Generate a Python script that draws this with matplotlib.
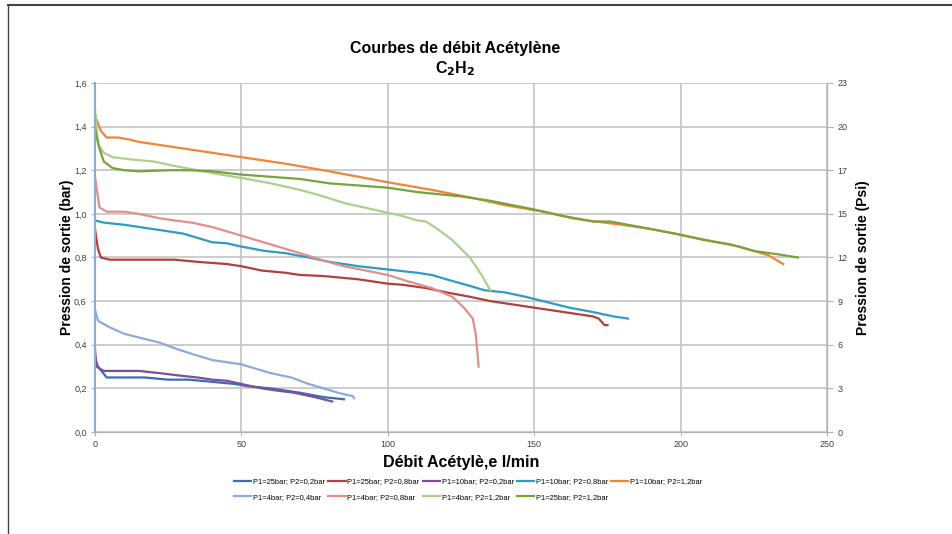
import numpy as np
import matplotlib.pyplot as plt
from matplotlib.lines import Line2D

# debit (l/min) et pression de sortie (bar)
x_25_02 = [0, 1, 4, 10, 17, 25, 32, 40, 48, 52, 60, 65, 70, 78, 85]
y_25_02 = [0.34, 0.30, 0.25, 0.25, 0.25, 0.24, 0.24, 0.23, 0.22, 0.21, 0.20, 0.19, 0.18, 0.16, 0.15]

x_25_08 = [0, 1, 2, 5, 10, 20, 27, 35, 45, 50, 57, 65, 70, 78, 82, 90, 95, 100, 105, 113, 120, 128, 135, 140, 150, 155, 165, 170, 172, 174, 175]
y_25_08 = [0.93, 0.84, 0.80, 0.79, 0.79, 0.79, 0.79, 0.78, 0.77, 0.76, 0.74, 0.73, 0.72, 0.715, 0.71, 0.70, 0.69, 0.68, 0.675, 0.66, 0.64, 0.62, 0.60, 0.59, 0.57, 0.56, 0.54, 0.53, 0.52, 0.49, 0.49]

x_10_02 = [0, 0.5, 3, 10, 15, 22, 28, 35, 40, 45, 50, 57, 62, 68, 75, 81]
y_10_02 = [0.38, 0.30, 0.28, 0.28, 0.28, 0.27, 0.26, 0.25, 0.24, 0.235, 0.22, 0.20, 0.19, 0.18, 0.16, 0.14]

x_10_08 = [0, 3, 10, 15, 25, 30, 35, 40, 45, 50, 58, 65, 73, 80, 90, 100, 110, 115, 120, 128, 133, 140, 147, 153, 162, 170, 177, 182]
y_10_08 = [0.97, 0.96, 0.95, 0.94, 0.92, 0.91, 0.89, 0.87, 0.865, 0.85, 0.83, 0.82, 0.80, 0.78, 0.76, 0.745, 0.73, 0.72, 0.70, 0.67, 0.65, 0.64, 0.62, 0.60, 0.57, 0.55, 0.53, 0.52]

x_10_12 = [0, 2, 4, 8, 12, 15, 25, 35, 50, 65, 78, 90, 100, 115, 130, 140, 153, 163, 168, 180, 190, 205, 220, 230, 235]
y_10_12 = [1.45, 1.38, 1.35, 1.35, 1.34, 1.33, 1.31, 1.29, 1.26, 1.23, 1.20, 1.17, 1.145, 1.11, 1.07, 1.04, 1.01, 0.98, 0.97, 0.95, 0.93, 0.89, 0.85, 0.81, 0.77]

x_4_04 = [0, 1, 5, 10, 16, 22, 28, 35, 40, 45, 50, 55, 60, 67, 73, 78, 83, 86, 88, 88.5]
y_4_04 = [0.56, 0.51, 0.48, 0.45, 0.43, 0.41, 0.38, 0.35, 0.33, 0.32, 0.31, 0.29, 0.27, 0.25, 0.22, 0.20, 0.18, 0.17, 0.165, 0.155]

x_4_08 = [0, 1.5, 4, 10, 15, 22, 27, 33, 40, 50, 60, 70, 77, 85, 100, 107, 115, 122, 126, 129, 130, 131]
y_4_08 = [1.17, 1.03, 1.01, 1.01, 1.00, 0.98, 0.97, 0.96, 0.94, 0.90, 0.86, 0.82, 0.79, 0.76, 0.72, 0.69, 0.66, 0.62, 0.57, 0.52, 0.45, 0.30]

x_4_12 = [0, 1, 3, 6, 12, 20, 27, 35, 43, 52, 60, 70, 78, 85, 95, 105, 110, 113, 117, 122, 128, 132, 135]
y_4_12 = [1.48, 1.32, 1.28, 1.26, 1.25, 1.24, 1.22, 1.20, 1.18, 1.16, 1.14, 1.11, 1.08, 1.05, 1.02, 0.99, 0.97, 0.965, 0.93, 0.88, 0.80, 0.72, 0.65]

x_25_12 = [0, 1.5, 3, 6, 10, 15, 25, 32, 40, 50, 60, 70, 80, 90, 100, 110, 125, 135, 150, 160, 170, 176, 186, 198, 208, 217, 225, 233, 240]
y_25_12 = [1.39, 1.30, 1.24, 1.21, 1.20, 1.195, 1.20, 1.20, 1.195, 1.18, 1.17, 1.16, 1.14, 1.13, 1.12, 1.10, 1.08, 1.06, 1.02, 0.99, 0.965, 0.965, 0.94, 0.91, 0.88, 0.86, 0.83, 0.815, 0.80]

bar_ticks = [0.0, 0.2, 0.4, 0.6, 0.8, 1.0, 1.2, 1.4, 1.6]
psi_labels = ['0', '3', '6', '9', '12', '15', '17', '20', '23']
x_ticks = [0, 50, 100, 150, 200, 250]

series = [
    (x_25_02, y_25_02, 'P1=25bar; P2=0,2bar', '#3b6db3'),
    (x_25_08, y_25_08, 'P1=25bar; P2=0,8bar', '#b3403c'),
    (x_10_02, y_10_02, 'P1=10bar; P2=0,2bar', '#7a519c'),
    (x_10_08, y_10_08, 'P1=10bar; P2=0,8bar', '#2e9cc0'),
    (x_10_12, y_10_12, 'P1=10bar; P2=1,2bar', '#f28535'),
    (x_4_04, y_4_04, 'P1=4bar; P2=0,4bar', '#8ea9dc'),
    (x_4_08, y_4_08, 'P1=4bar; P2=0,8bar', '#e08f8d'),
    (x_4_12, y_4_12, 'P1=4bar; P2=1,2bar', '#abd08d'),
    (x_25_12, y_25_12, 'P1=25bar; P2=1,2bar', '#76a33c'),
]

plt.rcParams['font.family'] = ['Liberation Sans', 'DejaVu Sans']

fig = plt.figure(figsize=(9.52, 5.34), dpi=100)
ax = fig.add_axes([0.0998, 0.191, 0.769, 0.6536])

lines = []
for xs, ys, lab, col in series:
    l, = ax.plot(xs, ys, color=col, lw=1.6, label=lab)
    lines.append(l)

ax.set_xlim(0, 250)
ax.set_ylim(0, 1.6)
ax.set_xticks(x_ticks)
ax.set_yticks(bar_ticks)
ax.set_yticklabels([('%.1f' % v).replace('.', ',') for v in bar_ticks])
ax.grid(True, color='#c4c4c4', lw=1.2)
ax.set_axisbelow(True)
ax.spines['top'].set_visible(False)
ax.spines['left'].set_color('#8ea9dc')
ax.spines['left'].set_linewidth(1.5)
ax.spines['bottom'].set_color('#b0b0b0')
ax.spines['right'].set_color('#b0b0b0')
ax.tick_params(labelsize=6.5, colors='#404040', length=3, width=0.8, pad=3)
ax.tick_params(axis='both', color='#b0b0b0')

ax2 = ax.twinx()
ax2.set_ylim(0, 1.6)
ax2.set_yticks(bar_ticks)
ax2.set_yticklabels(psi_labels)
ax2.tick_params(labelsize=6.5, colors='#404040', length=4, width=0.8, color='#b0b0b0')
ax2.spines['top'].set_visible(False)
ax2.spines['left'].set_visible(False)
ax2.spines['right'].set_color('#b0b0b0')
ax2.spines['bottom'].set_visible(False)

ax.set_xlabel('Débit Acétylè,e l/min', fontsize=11.5, fontweight='bold', labelpad=4)
ax.set_ylabel('Pression de sortie (bar)', fontsize=10, fontweight='bold', labelpad=0)
ax2.set_ylabel('Pression de sortie (Psi)', fontsize=10, fontweight='bold', labelpad=6)

fig.text(0.478, 0.91, 'Courbes de débit Acétylène', ha='center', va='center',
         fontsize=11.5, fontweight='bold')
fig.text(0.478, 0.872, r'C$_\mathbf{2}$H$_\mathbf{2}$', ha='center', va='center',
         fontsize=11.5, fontweight='bold')

# legende remplie ligne par ligne comme dans Excel
order = [0, 5, 1, 6, 2, 7, 3, 8, 4]
ax.legend([lines[i] for i in order], [series[i][2] for i in order],
          loc='upper center', bbox_to_anchor=(0.51, -0.113), ncol=5, frameon=False,
          prop={'size': 5.4}, handlelength=2.3, handletextpad=0.25,
          columnspacing=0.4, labelspacing=1.1)

# cadre de la capture
fig.add_artist(Line2D([0.008, 1.0], [0.99, 0.99], color='#444444', lw=1.5, transform=fig.transFigure))
fig.add_artist(Line2D([0.008, 0.008], [0.0, 0.99], color='#444444', lw=1.0, transform=fig.transFigure))

fig.savefig('out.png', dpi=100)
